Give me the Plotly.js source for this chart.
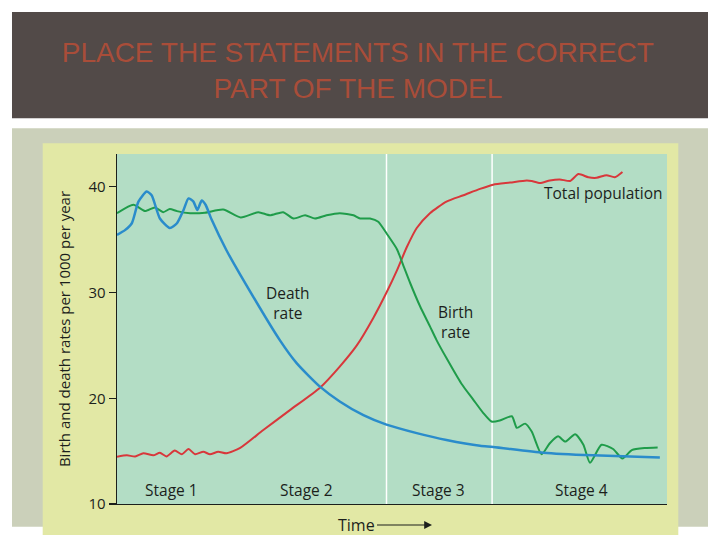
<!DOCTYPE html>
<html>
<head>
<meta charset="utf-8">
<script src="https://cdn.plot.ly/plotly-3.0.1.min.js"></script>
<style>html,body{margin:0;padding:0;background:#fff}#chart{width:720px;height:540px}</style>
</head>
<body>
<div id="chart"></div>
<script>
// Time axis is qualitative: 0 = start, 100 = end of the plotted period
const birthX = [0, 3.0, 5.1, 6.9, 8.4, 9.6, 10.9, 13.3, 16.0, 19.3, 22.5, 25.7, 27.8, 30.2, 32.1, 34.2, 36.0, 38.1, 40.5, 43.0, 44.2, 46.0, 47.5, 49.0, 50.9, 52.1, 53.3, 55.1, 56.9, 58.1, 59.9, 62.6, 64.8, 66.6, 68.1, 69.6, 71.8, 72.7, 74.2, 75.4, 77.2, 78.7, 80.2, 81.5, 83.3, 84.8, 86.0, 88.1, 90.2, 91.9, 93.6, 96.0, 98.3];
const birthRate = [37.5, 38.3, 37.7, 38.05, 37.6, 37.9, 37.7, 37.5, 37.55, 37.85, 37.1, 37.6, 37.3, 37.6, 37.0, 37.3, 37.0, 37.3, 37.5, 37.3, 37.0, 37.0, 36.7, 35.6, 34.1, 32.5, 30.9, 28.7, 26.8, 25.5, 23.8, 21.4, 19.85, 18.6, 17.8, 17.9, 18.3, 17.2, 17.6, 16.85, 14.7, 15.75, 16.4, 15.9, 16.6, 15.6, 13.9, 15.6, 15.2, 14.3, 15.1, 15.3, 15.35];

const deathX = [0, 1.45, 2.7, 3.9, 5.4, 6.3, 7.8, 9.6, 10.9, 12.1, 13.0, 13.9, 14.6, 15.4, 16.1, 17.2, 19.9, 22.4, 29.6, 32.7, 36.9, 40.5, 44.8, 49.0, 54.5, 59.9, 66.0, 68.4, 77.5, 86.5, 98.7];
const deathRate = [35.45, 35.9, 36.55, 38.6, 39.55, 39.2, 37.0, 36.1, 36.55, 37.8, 38.9, 38.6, 37.8, 38.7, 38.3, 36.9, 34.0, 31.7, 25.5, 23.3, 21.1, 19.7, 18.4, 17.5, 16.7, 16.05, 15.5, 15.4, 14.85, 14.6, 14.4];

const popX = [0, 1.8, 3.3, 4.8, 6.6, 7.8, 9.0, 10.5, 11.8, 13.0, 14.2, 15.7, 16.9, 18.4, 19.9, 22.4, 26.6, 31.5, 36.9, 40.5, 43.6, 46.6, 49.0, 50.9, 52.7, 54.5, 56.9, 59.9, 63.0, 66.0, 68.4, 71.5, 74.5, 75.4, 76.9, 78.7, 80.5, 82.4, 83.9, 85.7, 87.2, 89.0, 90.5, 91.9];
const totalPop = [14.47, 14.6, 14.5, 14.8, 14.6, 14.85, 14.5, 15.05, 14.7, 15.2, 14.7, 14.95, 14.7, 14.95, 14.8, 15.3, 17.0, 18.9, 21.0, 23.0, 25.0, 27.6, 30.0, 32.1, 34.3, 36.1, 37.5, 38.6, 39.2, 39.8, 40.2, 40.4, 40.6, 40.55, 40.35, 40.6, 40.7, 40.55, 41.2, 40.9, 40.85, 41.1, 40.9, 41.4];

const stageBounds = [49.0, 68.2];
const stageNames = ["Stage 1", "Stage 2", "Stage 3", "Stage 4"];
const stageLabelX = [9.95, 34.4, 58.5, 84.5];
const yTicks = [10, 20, 30, 40];

const FONT = "Open Sans, Noto Sans, DejaVu Sans, sans-serif";
const INK = "#1c1f1c";

const traces = [
  {x: popX, y: totalPop, type: "scatter", mode: "lines", name: "Total population",
   line: {color: "#d8373b", width: 2, shape: "spline", smoothing: 0.6}},
  {x: birthX, y: birthRate, type: "scatter", mode: "lines", name: "Birth rate",
   line: {color: "#1f9c4a", width: 2, shape: "spline", smoothing: 0.6}},
  {x: deathX, y: deathRate, type: "scatter", mode: "lines", name: "Death rate",
   line: {color: "#2a8ccb", width: 2.5, shape: "spline", smoothing: 0.6}}
];

const shapes = [
  {type: "rect", xref: "paper", yref: "paper", x0: -0.19091, x1: 1.07455, y0: 1.10200, y1: 1.40571,
   fillcolor: "#524a48", line: {width: 0}, layer: "below"},
  {type: "rect", xref: "paper", yref: "paper", x0: -0.19091, x1: 1.07455, y0: -0.06486, y1: 1.07343,
   fillcolor: "#cbd0ba", line: {width: 0}, layer: "below"},
  {type: "rect", xref: "paper", yref: "paper", x0: -0.13509, x1: 1.02055, y0: -0.08857, y1: 1.03057,
   fillcolor: "#e2e8a5", line: {width: 0}, layer: "below"},
  {type: "rect", xref: "paper", yref: "paper", x0: 0, x1: 1, y0: 0, y1: 1,
   fillcolor: "#b3ddc5", line: {width: 0}, layer: "below"}
];
stageBounds.forEach(b => shapes.push({type: "line", xref: "x", yref: "paper", x0: b, x1: b, y0: 0, y1: 1,
  line: {color: "#ffffff", width: 1.5}, layer: "below"}));

const annotations = [];
stageNames.forEach((s, i) => annotations.push({x: stageLabelX[i], y: 11.32, xref: "x", yref: "y", text: s,
  showarrow: false, xanchor: "center", yanchor: "middle", font: {family: FONT, size: 15.5, color: INK}}));
annotations.push({x: 31.1, y: 29.0, xref: "x", yref: "y", text: "Death<br>rate", showarrow: false,
  xanchor: "center", yanchor: "middle", font: {family: FONT, size: 15.5, color: INK}});
annotations.push({x: 61.6, y: 27.2, xref: "x", yref: "y", text: "Birth<br>rate", showarrow: false,
  xanchor: "center", yanchor: "middle", font: {family: FONT, size: 15.5, color: INK}});
annotations.push({x: 88.5, y: 39.4, xref: "x", yref: "y", text: "Total population", showarrow: false,
  xanchor: "center", yanchor: "middle", font: {family: FONT, size: 15.5, color: INK}});
annotations.push({x: 0.5727, y: -0.06, xref: "paper", yref: "paper", text: "Time", showarrow: true,
  ax: -75, ay: 0, arrowhead: 2, arrowsize: 1.3, arrowwidth: 1.2, arrowcolor: INK, standoff: 0, startstandoff: 0,
  font: {family: FONT, size: 16, color: INK}});

const layout = {
  width: 720, height: 540,
  margin: {l: 117, r: 53, t: 154, b: 36},
  paper_bgcolor: "#ffffff",
  plot_bgcolor: "rgba(0,0,0,0)",
  showlegend: false,
  hovermode: false,
  title: {
    text: "PLACE THE STATEMENTS IN THE CORRECT<br>PART OF THE MODEL",
    font: {family: "Liberation Sans, Arial, sans-serif", size: 28, color: "#a94d39"},
    xref: "container", yref: "container", x: 0.497, y: 0.886, xanchor: "center", yanchor: "middle"
  },
  xaxis: {range: [0, 100], showgrid: false, zeroline: false, showticklabels: false, ticks: "",
    showline: true, linecolor: INK, linewidth: 1.3, fixedrange: true},
  yaxis: {range: [10, 43.1], tickvals: yTicks, ticktext: yTicks.map(String), showgrid: false, zeroline: false,
    ticks: "outside", ticklen: 7, tickwidth: 1.2, tickcolor: INK,
    tickfont: {family: FONT, size: 15, color: INK},
    showline: true, linecolor: INK, linewidth: 1.3, fixedrange: true,
    title: {text: "Birth and death rates per 1000 per year", standoff: 14,
      font: {family: FONT, size: 15, color: INK}}},
  shapes: shapes,
  annotations: annotations
};

Plotly.newPlot("chart", traces, layout, {staticPlot: true, displayModeBar: false});
</script>
</body>
</html>
